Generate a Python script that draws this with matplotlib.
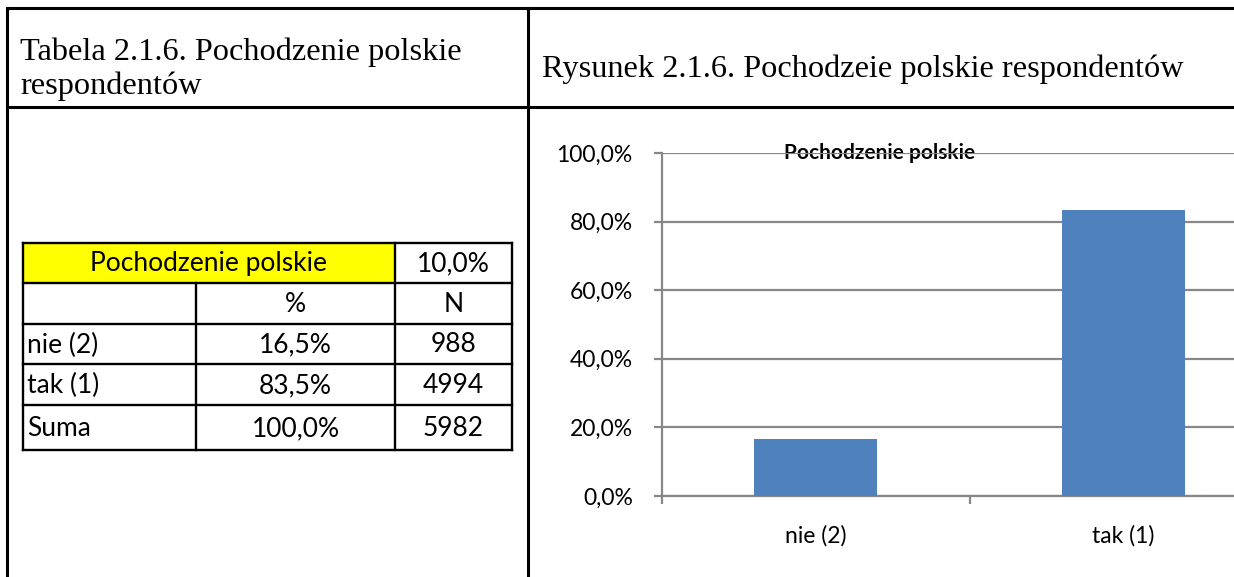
import matplotlib.pyplot as plt
from matplotlib.patches import Rectangle
from matplotlib.ticker import FuncFormatter

# data
categories = ["nie (2)", "tak (1)"]
percent = [0.165, 0.835]
table_rows = ["nie (2)", "tak (1)", "Suma"]
table_pct = ["16,5%", "83,5%", "100,0%"]
table_n = ["988", "4994", "5982"]
yticks = [0.0, 0.2, 0.4, 0.6, 0.8, 1.0]

W, H = 1234, 577
fig = plt.figure(figsize=(W / 100, H / 100), dpi=100)

# page layer in pixel coordinates
bg = fig.add_axes([0, 0, 1, 1])
bg.set_xlim(0, W)
bg.set_ylim(H, 0)
bg.axis("off")

# outer document table frame
lw = 2.2
bg.plot([7, W], [8, 8], color="black", lw=lw)
bg.plot([7, W], [107, 107], color="black", lw=lw)
bg.plot([7, 7], [8, H], color="black", lw=lw)
bg.plot([528, 528], [8, H], color="black", lw=lw)

serif = "Liberation Serif"
bg.text(20, 52, "Tabela 2.1.6. Pochodzenie polskie", fontsize=23.3, family=serif, va="center", ha="left")
bg.text(20, 86, "respondentów", fontsize=23.3, family=serif, va="center", ha="left")
bg.text(542, 69, "Rysunek 2.1.6. Pochodzeie polskie respondentów", fontsize=23.3, family=serif,
        va="center", ha="left")

# small data table
sans = "Lato"
cols = [23, 196, 395, 512]
rows = [243, 283, 324, 364, 405, 450]
bg.add_patch(Rectangle((cols[0], rows[0]), cols[2] - cols[0], rows[1] - rows[0],
                       facecolor="#FFFF00", edgecolor="none", zorder=0))
tl = 1.7
for y in rows:
    bg.plot([cols[0], cols[3]], [y, y], color="black", lw=tl)
for x in [cols[0], cols[2], cols[3]]:
    bg.plot([x, x], [rows[0], rows[-1]], color="black", lw=tl)
bg.plot([cols[1], cols[1]], [rows[1], rows[-1]], color="black", lw=tl)

fs_t = 19
def cy(i):
    return (rows[i] + rows[i + 1]) / 2 + 1
bg.text((cols[0] + cols[2]) / 2, cy(0), "Pochodzenie polskie", fontsize=fs_t, family=sans, ha="center", va="center")
bg.text((cols[2] + cols[3]) / 2, cy(0), "10,0%", fontsize=fs_t, family=sans, ha="center", va="center")
bg.text((cols[1] + cols[2]) / 2, cy(1), "%", fontsize=fs_t, family=sans, ha="center", va="center")
bg.text((cols[2] + cols[3]) / 2, cy(1), "N", fontsize=fs_t, family=sans, ha="center", va="center")
for i, (lab, p, n) in enumerate(zip(table_rows, table_pct, table_n)):
    bg.text(cols[0] + 4, cy(i + 2), lab, fontsize=fs_t, family=sans, ha="left", va="center")
    bg.text((cols[1] + cols[2]) / 2, cy(i + 2), p, fontsize=fs_t, family=sans, ha="center", va="center")
    bg.text((cols[2] + cols[3]) / 2, cy(i + 2), n, fontsize=fs_t, family=sans, ha="center", va="center")

# bar chart (plot area runs past right edge, as in the reference)
x0, x1, ytop, ybot = 662, 1277, 153, 496
ax = fig.add_axes([x0 / W, (H - ybot) / H, (x1 - x0) / W, (ybot - ytop) / H])
ax.set_facecolor("none")
grid_c = "#878787"
ax.bar(range(len(categories)), percent, width=0.4, color="#4F81BD", zorder=3)
ax.set_xlim(-0.5, 1.5)
ax.set_ylim(0, 1)
ax.set_yticks(yticks)
ax.yaxis.set_major_formatter(FuncFormatter(lambda v, p: f"{v * 100:.1f}%".replace(".", ",")))
ax.yaxis.grid(True, color=grid_c, lw=1.6, zorder=1)
ax.set_axisbelow(True)
for s in ["top", "right"]:
    ax.spines[s].set_visible(False)
for s in ["left", "bottom"]:
    ax.spines[s].set_color(grid_c)
    ax.spines[s].set_linewidth(1.6)
ax.set_xticks([-0.5, 0.5], labels=["", ""])
ax.set_xticks([0, 1], labels=categories, minor=True)
ax.tick_params(axis="x", which="minor", length=0, pad=21, labelsize=16.5, labelfontfamily=sans)
ax.tick_params(axis="x", which="major", length=6, color=grid_c, width=1.6, direction="out")
ax.tick_params(axis="y", length=6, color=grid_c, width=1.6, pad=15, labelsize=16.5, labelfontfamily=sans)

bg.text(880, 153, "Pochodzenie polskie", fontsize=15, family=sans, fontweight="bold",
        ha="center", va="center", zorder=5)

plt.savefig("out.png", dpi=100)
